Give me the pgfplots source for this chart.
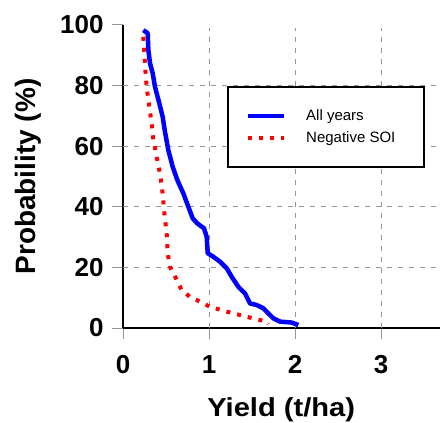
\documentclass[border=0pt]{standalone}
\usepackage{pgfplots}
\pgfplotsset{compat=1.18}
\usepackage{fontspec}
\setmainfont{Liberation Sans}
\definecolor{gridgray}{RGB}{150,150,150}
\begin{document}
\begin{tikzpicture}
\begin{axis}[
  at={(123bp,95bp)}, anchor=south west,
  x=86bp, y=3.03bp,
  xmin=0, xmax=3.8, ymin=0, ymax=100,
  axis x line*=bottom, axis y line*=left,
  axis line style={black, line width=2.5bp},
  xtick={0,1,2,3}, ytick={0,20,40,60,80,100},
  tick align=outside, major tick length=11bp,
  tick style={gridgray, line width=1bp},
  /pgf/number format/assume math mode=true,
  ticklabel style={font=\fontsize{26bp}{28bp}\selectfont\bfseries},
  yticklabel style={xshift=-5bp},
  xticklabel style={yshift=-13bp},
  xlabel={Yield (t/ha)}, ylabel={Probability (\%)},
  x label style={at={(axis cs:1.84,-27)}, anchor=center,
    font=\fontsize{26bp}{28bp}\selectfont\bfseries, xscale=1.12},
  y label style={at={(axis cs:-1.105,50)}, anchor=center, rotate=0,
    font=\fontsize{28bp}{30bp}\selectfont\bfseries},
  clip=false,
  legend style={at={(axis cs:1.2058,80)}, anchor=north west,
    draw=black, line width=2bp, inner xsep=18bp, inner ysep=23bp,
    column sep=20bp, row sep=9.5bp,
    nodes={inner sep=0pt},
    font=\fontsize{15bp}{17bp}\selectfont},
  legend cell align=left,
  legend image code/.code={\draw[#1] (0bp,0bp) -- (36bp,0bp);},
]
\foreach \xx in {1,2,3} {
  \edef\tmp{\noexpand\draw[gridgray, line width=1bp, dash pattern=on 5bp off 6bp] (axis cs:\xx,0) -- (axis cs:\xx,99);}
  \tmp
}
\foreach \yy in {20,40,60,80} {
  \edef\tmp{\noexpand\draw[gridgray, line width=1bp, dash pattern=on 5bp off 6bp] (axis cs:0,\yy) -- (axis cs:3.8,\yy);}
  \tmp
}
\addplot[blue, line width=4.5bp, line join=round] coordinates {
(0.236,98.3) (0.287,97.3) (0.295,91.7) (0.314,87.4) (0.345,84.1) (0.372,79.6)
(0.422,74.2) (0.461,69.7) (0.488,64.8) (0.527,58.7) (0.578,53.2) (0.632,48.8)
(0.702,44.4) (0.760,40.0) (0.810,36.2) (0.864,34.5) (0.942,32.9) (0.973,30.1)
(0.985,24.7) (1.05,23.5) (1.128,21.9) (1.206,19.7) (1.264,16.9) (1.341,13.6)
(1.419,11.4) (1.477,8.1) (1.554,7.6) (1.632,6.5) (1.690,4.8) (1.748,3.2)
(1.826,2.1) (1.961,1.8) (2.039,1.0)
};
\addlegendentry{\makebox[100bp][l]{All years}}
\addplot[red, line width=4bp, dash pattern=on 4bp off 7bp] coordinates {
(0.236,96.1) (0.248,90.7) (0.260,85.1) (0.275,79.6) (0.306,73.0) (0.333,67.6)
(0.353,62.0) (0.391,56.5) (0.430,51.1) (0.461,44.4) (0.481,37.8) (0.508,31.2)
(0.519,24.7) (0.547,20.2) (0.616,16.4) (0.682,12.5) (0.779,10.3) (0.895,8.7)
(1.012,7.0) (1.206,5.4) (1.438,3.7) (1.671,2.1) (1.69,1.3)
};
\addlegendentry{\makebox[100bp][l]{Negative SOI}}
\end{axis}
\pgfresetboundingbox
\path (0,0) rectangle (440bp,423bp);
\end{tikzpicture}
\end{document}
